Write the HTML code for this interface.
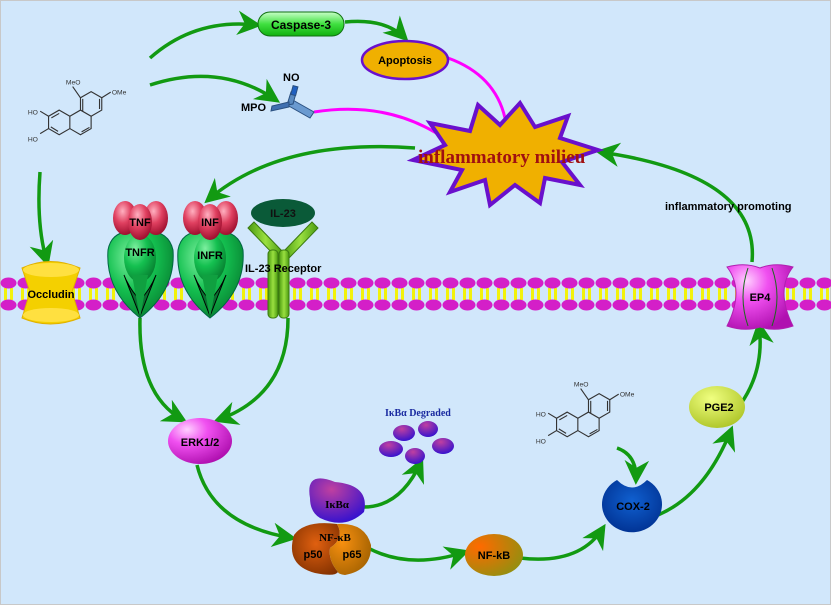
<!DOCTYPE html>
<html><head><meta charset="utf-8"><style>
html,body{margin:0;padding:0;background:#d1e7fb;}
svg{display:block;font-family:"Liberation Sans",sans-serif;}
</style></head><body>
<svg width="831" height="605" viewBox="0 0 831 605" xmlns="http://www.w3.org/2000/svg">
<defs>
<marker id="ah" viewBox="0 0 10 10" refX="8" refY="5" markerWidth="7" markerHeight="7" markerUnits="strokeWidth" orient="auto">
<path d="M0,0 L10,5 L0,10 L3,5 z" fill="#129a12"/></marker>
<pattern id="mem" x="0" y="0" width="17" height="605" patternUnits="userSpaceOnUse">
<rect x="4" y="288" width="3" height="12" fill="#f2f20a"/>
<rect x="10" y="288" width="3" height="12" fill="#f2f20a"/>
<ellipse cx="8.5" cy="283" rx="8" ry="5.5" fill="#d41fc8"/>
<ellipse cx="8.5" cy="305" rx="8" ry="5.5" fill="#d41fc8"/>
</pattern>
<radialGradient id="gGreen" cx="35%" cy="30%" r="75%"><stop offset="0" stop-color="#7ef0a0"/><stop offset="0.5" stop-color="#14c050"/><stop offset="1" stop-color="#078030"/></radialGradient>
<radialGradient id="gRed" cx="40%" cy="30%" r="70%"><stop offset="0" stop-color="#ffb0c0"/><stop offset="0.5" stop-color="#e04060"/><stop offset="1" stop-color="#a01030"/></radialGradient>
<radialGradient id="gPink" cx="30%" cy="25%" r="80%"><stop offset="0" stop-color="#ffd0ff"/><stop offset="0.4" stop-color="#f050f0"/><stop offset="1" stop-color="#b010b0"/></radialGradient>
<radialGradient id="gPurple" cx="40%" cy="25%" r="80%"><stop offset="0" stop-color="#c040a0"/><stop offset="1" stop-color="#3010d0"/></radialGradient>
<radialGradient id="gBrown" cx="50%" cy="40%" r="70%"><stop offset="0" stop-color="#e06010"/><stop offset="1" stop-color="#803000"/></radialGradient>
<radialGradient id="gOrange" cx="30%" cy="35%" r="80%"><stop offset="0" stop-color="#f89010"/><stop offset="1" stop-color="#a06000"/></radialGradient>
<radialGradient id="gNfkb" cx="25%" cy="30%" r="85%"><stop offset="0" stop-color="#ff6a00"/><stop offset="1" stop-color="#909010"/></radialGradient>
<radialGradient id="gBlue" cx="50%" cy="40%" r="65%"><stop offset="0" stop-color="#1060d0"/><stop offset="1" stop-color="#003090"/></radialGradient>
<radialGradient id="gLime" cx="40%" cy="30%" r="80%"><stop offset="0" stop-color="#f0ff80"/><stop offset="1" stop-color="#a8c020"/></radialGradient>
<linearGradient id="gCasp" x1="0" y1="0" x2="0" y2="1"><stop offset="0" stop-color="#c8ffc8"/><stop offset="0.5" stop-color="#40e040"/><stop offset="1" stop-color="#10b010"/></linearGradient>
<linearGradient id="gIL" x1="0" y1="0" x2="1" y2="0"><stop offset="0" stop-color="#4a9a10"/><stop offset="0.5" stop-color="#9ae040"/><stop offset="1" stop-color="#4a9a10"/></linearGradient>
<g id="mol" stroke="#333" stroke-width="1" fill="none">
<path d="M60,109 L69.5,114.5 L69.5,125.5 L60,131 L50.5,125.5 L50.5,114.5 Z"/>
<path d="M69.5,114.5 L79,109 L88.5,114.5 L88.5,125.5 L79,131 L69.5,125.5"/>
<path d="M79,109 L79,98 L88.5,92.5 L98,98 L98,109 L88.5,114.5"/>
<path d="M53,116 L60,112 M52.5,124 L59,128 M81,110 L81,99 M96,99 L96,108 M80,128.5 L87,124.5"/>
<path d="M50.5,114.5 L43,110 M50.5,125.5 L43,130 M79,98 L72,88 M98,98 L106,93"/>
<text x="32" y="113" font-size="6" fill="#333" stroke="none">HO</text>
<text x="32" y="137" font-size="6" fill="#333" stroke="none">HO</text>
<text x="66" y="86" font-size="6" fill="#333" stroke="none">MeO</text>
<text x="107" y="95" font-size="6" fill="#333" stroke="none">OMe</text>
</g>
</defs>
<rect x="0.5" y="0.5" width="830" height="604" fill="#d1e7fb" stroke="#c8c8c8"/>
<rect x="0" y="270" width="831" height="45" fill="url(#mem)"/>

<use href="#mol" transform="translate(-8,-12) scale(1.12)"/>
<use href="#mol" transform="translate(500,290) scale(1.12)"/>

<path d="M314,112 Q390,100 447,140" stroke="#ff00ff" stroke-width="3" fill="none"/>
<path d="M448,58 Q495,75 505,118" stroke="#ff00ff" stroke-width="3" fill="none"/>

<g stroke="#129a12" stroke-width="3.5" fill="none" marker-end="url(#ah)">
<path d="M150,58 Q195,18 257,25"/>
<path d="M150,85 Q220,62 276,100"/>
<path d="M345,22 Q385,18 405,38"/>
<path d="M40,172 Q36,225 47,262"/>
<path d="M415,148 Q280,138 208,200"/>
<path d="M752,262 Q760,175 600,152"/>
<path d="M140,318 Q138,395 183,420"/>
<path d="M288,318 Q288,395 218,420"/>
<path d="M197,465 Q212,525 292,538"/>
<path d="M362,507 Q400,508 421,462"/>
<path d="M368,548 Q410,570 465,552"/>
<path d="M520,558 Q580,565 603,528"/>
<path d="M617,448 Q637,455 636,480"/>
<path d="M658,515 Q705,495 731,430"/>
<path d="M740,405 Q765,370 759,325"/>
</g>

<rect x="258" y="12" width="86" height="24" rx="12" fill="url(#gCasp)" stroke="#107010" stroke-width="1"/>
<text x="301" y="29" font-size="12" font-weight="bold" text-anchor="middle">Caspase-3</text>
<ellipse cx="405" cy="60" rx="43" ry="19" fill="#f0b000" stroke="#6a10cc" stroke-width="2.5"/>
<text x="405" y="64" font-size="11" font-weight="bold" text-anchor="middle">Apoptosis</text>
<g stroke="#2a5080" stroke-width="1">
<path d="M291,99 L314,112 L310,118 L287,105Z" fill="#6a9ad0"/>
<path d="M287,105 L291,92 L296,93 L293,104Z" fill="#5a8ac0"/>
<path d="M289,102 L272,106 L271,111 L289,107Z" fill="#4070b0"/>
<rect x="292" y="86" width="5" height="9" fill="#2060c0" transform="rotate(15 294 90)"/>
</g>
<text x="283" y="81" font-size="11" font-weight="bold">NO</text>
<text x="241" y="111" font-size="11" font-weight="bold">MPO</text>

<polygon points="520,103 535,127 568,116 560,138 598,150 562,162 580,185 545,178 540,203 515,185 490,205 485,180 450,192 462,170 413,160 445,145 430,123 470,131 478,105 500,125" fill="#f0b000" stroke="#6a10cc" stroke-width="4"/>
<text x="418" y="163" font-family="Liberation Serif,serif" font-size="19" font-weight="bold" fill="#a01010">inflammatory milieu</text>
<text x="665" y="210" font-size="11" font-weight="bold">inflammatory promoting</text>

<g>
<path d="M22,268 Q50,255 80,268 L72,292 L80,318 Q50,330 22,318 L30,292Z" fill="#f4d000" stroke="#e0b000"/>
<ellipse cx="51" cy="270" rx="28" ry="7" fill="#ffe040"/>
<ellipse cx="51" cy="315" rx="28" ry="7" fill="#ffe040"/>
<text x="51" y="298" font-size="11" font-weight="bold" text-anchor="middle">Occludin</text>
</g>

<g id="rec">
<path d="M140,318 Q105,290 108,250 Q112,228 140,232 Q168,228 173,250 Q176,290 140,318Z" fill="url(#gGreen)" stroke="#064" stroke-width="1"/>
<path d="M140,316 L124,275 Q130,290 140,300 Q150,290 156,275Z" fill="#0a7030" stroke="#000" stroke-width="1"/>
<ellipse cx="140" cy="258" rx="16" ry="24" fill="url(#gGreen)"/>
<path d="M132,275 L140,318 L148,275Z" fill="#10a040"/>
<ellipse cx="125" cy="218" rx="12" ry="17" fill="url(#gRed)"/>
<ellipse cx="156" cy="218" rx="12" ry="17" fill="url(#gRed)"/>
<ellipse cx="140" cy="222" rx="12" ry="18" fill="url(#gRed)"/>
</g>
<use href="#rec" transform="translate(70,0)"/>
<text x="140" y="226" font-size="11" font-weight="bold" text-anchor="middle">TNF</text>
<text x="140" y="256" font-size="11" font-weight="bold" text-anchor="middle">TNFR</text>
<text x="210" y="226" font-size="11" font-weight="bold" text-anchor="middle">INF</text>
<text x="210" y="259" font-size="11" font-weight="bold" text-anchor="middle">INFR</text>

<g stroke="#3a7a10" stroke-width="1" fill="url(#gIL)">
<path d="M248,228 L254,222 L283,252 L277,258Z"/>
<path d="M312,222 L318,228 L289,258 L283,252Z"/>
<rect x="268" y="250" width="10" height="68" rx="4"/>
<rect x="279" y="250" width="10" height="68" rx="4"/>
</g>
<ellipse cx="283" cy="213" rx="32" ry="14" fill="#0a5a38"/>
<text x="283" y="217" font-size="11" font-weight="bold" fill="#111" text-anchor="middle">IL-23</text>
<text x="245" y="272" font-size="11" font-weight="bold">IL-23  Receptor</text>

<path d="M727,267 Q745,262 760,268 Q775,262 793,267 Q775,290 793,326 Q775,332 760,327 Q745,332 727,326 Q745,290 727,267Z" fill="url(#gPink)" stroke="#b020b0"/>
<path d="M748,268 Q738,297 748,326 M772,268 Q782,297 772,326" stroke="#1a6a1a" fill="none"/>
<text x="760" y="301" font-size="11" font-weight="bold" text-anchor="middle">EP4</text>

<ellipse cx="200" cy="441" rx="32" ry="23" fill="url(#gPink)"/>
<text x="200" y="446" font-size="11" font-weight="bold" text-anchor="middle">ERK1/2</text>

<text x="385" y="416" font-family="Liberation Serif,serif" font-size="10" font-weight="bold" fill="#1a2aa0">IκBα Degraded</text>
<g fill="url(#gPurple)">
<ellipse cx="404" cy="433" rx="11" ry="8"/>
<ellipse cx="428" cy="429" rx="10" ry="8"/>
<ellipse cx="391" cy="449" rx="12" ry="8"/>
<ellipse cx="443" cy="446" rx="11" ry="8"/>
<ellipse cx="415" cy="456" rx="10" ry="8"/>
</g>

<path d="M310,498 Q305,470 335,482 Q370,485 364,512 Q345,530 320,518 Q310,512 310,498Z" fill="url(#gPurple)"/>
<text x="337" y="508" font-family="Liberation Serif,serif" font-size="11" font-weight="bold" text-anchor="middle">IκBα</text>

<path d="M337,524 Q305,520 294,535 Q285,565 315,573 Q335,577 338,572 Q328,560 330,548 Q345,538 337,524Z" fill="url(#gBrown)"/>
<path d="M337,524 Q365,522 371,545 Q372,570 345,575 Q338,574 338,572 Q328,560 330,548 Q345,538 337,524Z" fill="url(#gOrange)"/>
<text x="335" y="541" font-family="Liberation Serif,serif" font-size="11" font-weight="bold" text-anchor="middle">NF-κB</text>
<text x="313" y="558" font-size="11" font-weight="bold" text-anchor="middle">p50</text>
<text x="352" y="558" font-size="11" font-weight="bold" text-anchor="middle">p65</text>

<ellipse cx="494" cy="555" rx="29" ry="21" fill="url(#gNfkb)"/>
<text x="494" y="559" font-size="11" font-weight="bold" text-anchor="middle">NF-kB</text>

<path d="M617,480 A30,28 0 1 0 647,480 Q632,495 617,480Z" fill="url(#gBlue)"/>
<text x="633" y="510" font-size="11" font-weight="bold" text-anchor="middle">COX-2</text>

<ellipse cx="717" cy="407" rx="28" ry="21" fill="url(#gLime)"/>
<text x="719" y="411" font-size="11" font-weight="bold" text-anchor="middle">PGE2</text>
</svg>
</body></html>
